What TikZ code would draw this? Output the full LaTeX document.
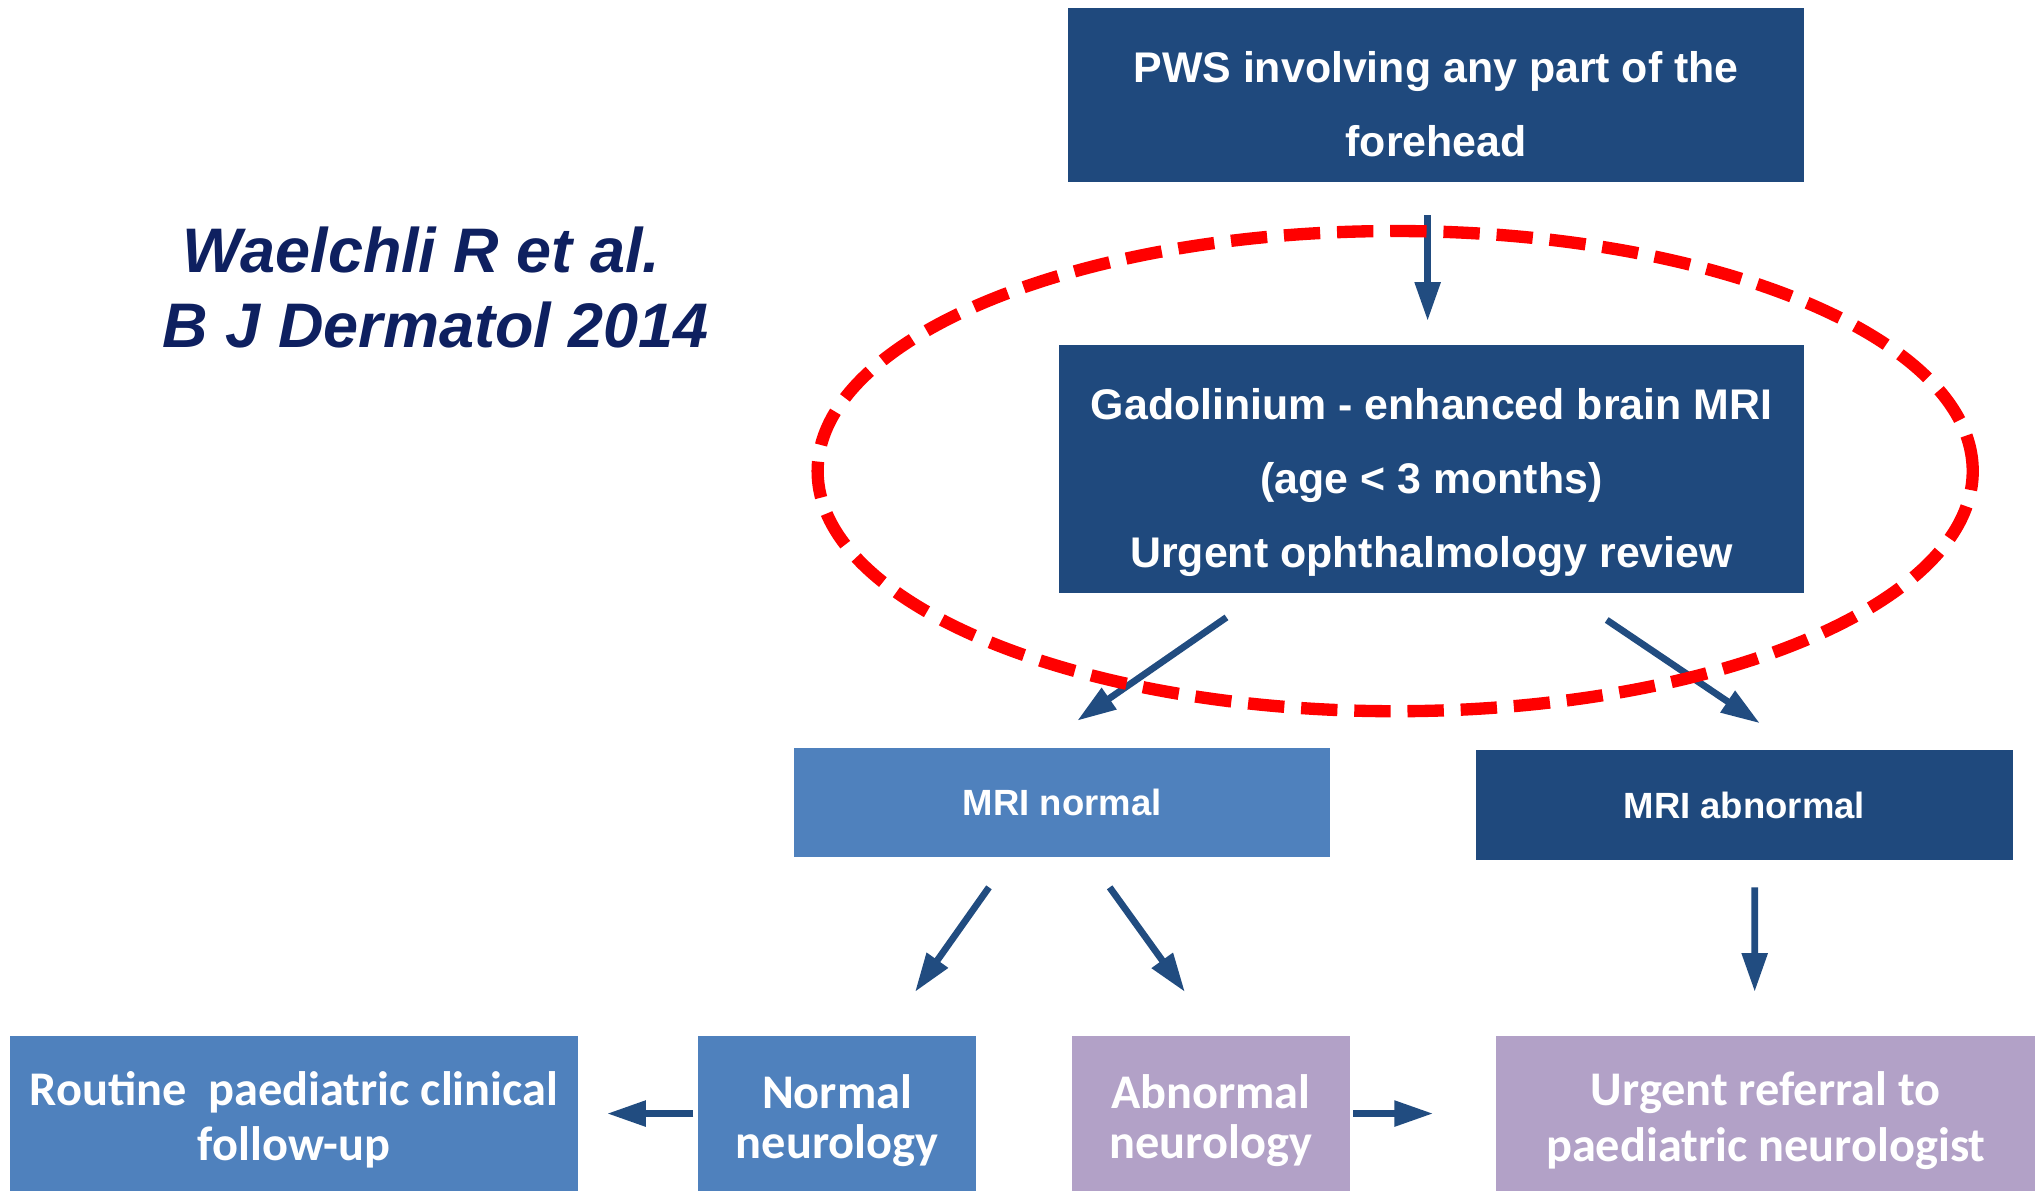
\documentclass[tikz,border=0pt]{standalone}
\usepackage{fontspec}
\setmainfont{Liberation Sans}
\newfontfamily\calib{Carlito}
\usepackage{xcolor}
\usetikzlibrary{arrows.meta}
\definecolor{navybox}{RGB}{31,73,125}
\definecolor{bluebox}{RGB}{79,129,189}
\definecolor{lilacbox}{RGB}{178,161,199}
\definecolor{arrowblue}{RGB}{33,76,128}
\definecolor{citeblue}{RGB}{14,32,96}
\newcommand{\dropln}[2]{\raisebox{-#1}[\height][\depth]{#2}}

\begin{document}
\begin{tikzpicture}[
	box/.style={rectangle, inner sep=0pt, text=white, align=center, font=\bfseries\fontsize{9.4}{16.2}\selectfont},
	mribox/.style={rectangle, inner sep=0pt, text=white, align=center, font=\bfseries\fontsize{8}{10}\selectfont},
	lowbox/.style={rectangle, inner sep=0pt, text=white, align=center, minimum height=1.2cm, font=\calib\bfseries\fontsize{10.6}{12.2}\selectfont},
	arr/.style={-{Triangle[length=3mm,width=1.9mm]}, line width=0.52mm, color=arrowblue},
	cite/.style={anchor=base west, text=citeblue, font=\bfseries\itshape\fontsize{13.8}{16}\selectfont}
]
	\useasboundingbox (0,0) rectangle (15.68,-9.18);
	\node[cite] (cite1) at (1.28,-2.10) {Waelchli R et al.};
	\node[cite] (cite2) at (1.13,-2.68) {B J Dermatol 2014};
	\node[box, fill=navybox, minimum width=5.67cm, minimum height=1.34cm] (pws) at (11.065,-0.73) {\dropln{2pt}{PWS involving any part of the}\\\dropln{2pt}{forehead}};
	\node[box, fill=navybox, minimum width=5.74cm, minimum height=1.91cm] (gad) at (11.03,-3.615) {\dropln{3pt}{Gadolinium - enhanced brain MRI}\\\dropln{3pt}{(age < 3 months)}\\\dropln{3pt}{Urgent ophthalmology review}};
	\node[mribox, fill=bluebox, minimum width=4.13cm, minimum height=0.84cm] (mrinorm) at (8.185,-6.18) {MRI normal};
	\node[mribox, fill=navybox, minimum width=4.14cm, minimum height=0.85cm] (mriabn) at (13.44,-6.205) {MRI abnormal};
	\node[lowbox, fill=bluebox, minimum width=4.37cm] (routine) at (2.265,-8.58) {\dropln{1.4pt}{Routine\ \ paediatric clinical}\\\dropln{1.4pt}{follow-up}};
	\node[lowbox, fill=bluebox, minimum width=2.14cm, font=\calib\bfseries\fontsize{10.6}{10.9}\selectfont] (normneuro) at (6.45,-8.58) {\dropln{1.6pt}{Normal}\\\dropln{1.6pt}{neurology}};
	\node[lowbox, fill=lilacbox, minimum width=2.14cm, font=\calib\bfseries\fontsize{10.6}{10.9}\selectfont] (abnneuro) at (9.33,-8.58) {\dropln{1.6pt}{Abnormal}\\\dropln{1.6pt}{neurology}};
	\node[lowbox, fill=lilacbox, minimum width=4.15cm] (referral) at (13.605,-8.58) {\dropln{1.6pt}{Urgent referral to}\\\dropln{1.6pt}{paediatric neurologist}};
	\draw[arr] ([xshift=-0.065cm,yshift=-0.25cm]pws.south) -- ([xshift=-0.03cm,yshift=0.18cm]gad.north);
	\draw[arr] ([xshift=-1.58cm,yshift=-0.18cm]gad.south) -- ([xshift=0.115cm,yshift=0.2cm]mrinorm.north);
	\draw[arr] ([xshift=1.35cm,yshift=-0.2cm]gad.south) -- ([xshift=0.12cm,yshift=0.2cm]mriabn.north);
	\draw[arr] ([xshift=-0.565cm,yshift=-0.23cm]mrinorm.south) -- ([xshift=0.6cm,yshift=0.33cm]normneuro.north);
	\draw[arr] ([xshift=0.365cm,yshift=-0.23cm]mrinorm.south) -- ([xshift=-0.2cm,yshift=0.33cm]abnneuro.north);
	\draw[arr] ([xshift=0.08cm,yshift=-0.2cm]mriabn.south) -- ([xshift=-0.085cm,yshift=0.33cm]referral.north);
	\draw[arr] ([xshift=-0.03cm]normneuro.west) -- ([xshift=0.22cm]routine.east);
	\draw[arr] ([xshift=0.02cm]abnneuro.east) -- ([xshift=-0.48cm]referral.west);
	\draw[red, line width=0.95mm, dash pattern=on 2.8mm off 1.3mm] (10.75,-3.63) ellipse (4.45 and 1.85);
\end{tikzpicture}
\end{document}
